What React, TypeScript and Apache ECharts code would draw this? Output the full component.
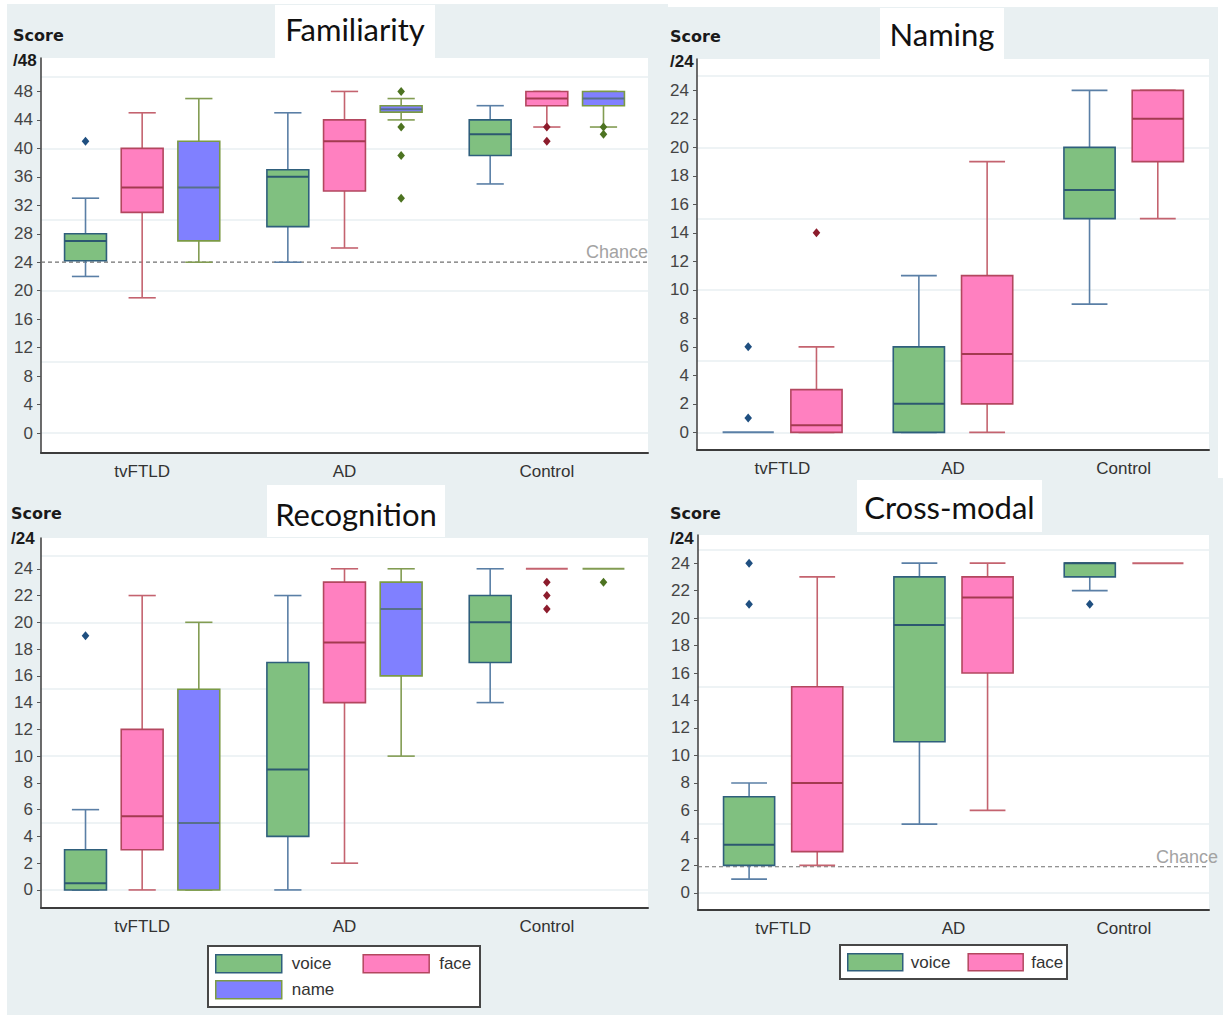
import React, { useEffect, useRef } from "react";
import * as echarts from "echarts";

// ---- data -------------------------------------------------------------
const categories = ["tvFTLD", "AD", "Control"];

// Five-number summaries per patient group: [lower whisker, Q1, median, Q3, upper whisker]
const familiarityVoice = [[22, 24.2, 27, 28, 33], [24, 29, 36, 37, 45], [35, 39, 42, 44, 46]];
const familiarityFace = [[19, 31, 34.5, 40, 45], [26, 34, 41, 44, 48], [43, 46, 47, 48, 48]];
const familiarityName = [[24, 27, 34.5, 41, 47], [44, 45.1, 45.5, 46, 47], [43, 46, 47, 48, 48]];
const familiarityVoiceOutliers = [["tvFTLD", 41]];
const familiarityFaceOutliers = [["Control", 43], ["Control", 41]];
const familiarityNameOutliers = [["AD", 48], ["AD", 43], ["AD", 39], ["AD", 33], ["Control", 43], ["Control", 42]];

const namingVoice = [[0, 0, 0, 0, 0], [0, 0, 2, 6, 11], [9, 15, 17, 20, 24]];
const namingFace = [[0, 0, 0.5, 3, 6], [0, 2, 5.5, 11, 19], [15, 19, 22, 24, 24]];
const namingVoiceOutliers = [["tvFTLD", 6], ["tvFTLD", 1]];
const namingFaceOutliers = [["tvFTLD", 14]];

const recognitionVoice = [[0, 0, 0.5, 3, 6], [0, 4, 9, 17, 22], [14, 17, 20, 22, 24]];
const recognitionFace = [[0, 3, 5.5, 12, 22], [2, 14, 18.5, 23, 24], [24, 24, 24, 24, 24]];
const recognitionName = [[0, 0, 5, 15, 20], [10, 16, 21, 23, 24], [24, 24, 24, 24, 24]];
const recognitionVoiceOutliers = [["tvFTLD", 19]];
const recognitionFaceOutliers = [["Control", 23], ["Control", 22], ["Control", 21]];
const recognitionNameOutliers = [["Control", 23]];

const crossModalVoice = [[1, 2, 3.5, 7, 8], [5, 11, 19.5, 23, 24], [22, 23, 24, 24, 24]];
const crossModalFace = [[2, 3, 8, 15, 23], [6, 16, 21.5, 23, 24], [24, 24, 24, 24, 24]];
const crossModalVoiceOutliers = [["tvFTLD", 24], ["tvFTLD", 21], ["Control", 21]];
const crossModalFaceOutliers: (string | number)[][] = [];

const familiarityChance = 24;
const crossModalChance = 1.9;

const ticks48 = [0, 4, 8, 12, 16, 20, 24, 28, 32, 36, 40, 44, 48];
const ticks24 = [0, 2, 4, 6, 8, 10, 12, 14, 16, 18, 20, 22, 24];
const gridLines48 = [0, 10, 20, 30, 40, 50];
const gridLines24 = [0, 5, 10, 15, 20, 25];

// ---- styling ------------------------------------------------------------
const SANS = '"Liberation Sans", Arial, sans-serif';
const TITLE_FONT = 'Lato, "Open Sans", sans-serif';
const BG = "#e9f0f2";

const groupColors: Record<string, any> = {
  voice: { fill: "#80c080", border: "#2f5f7c", median: "#2c5870", whisker: "#5a7fa6", outlier: "#1f4f80" },
  face: { fill: "#ff80c0", border: "#b3475f", median: "#a33a50", whisker: "#c4636f", outlier: "#8c1c2c" },
  name: { fill: "#8080ff", border: "#7b9a45", median: "#58708a", whisker: "#829c52", outlier: "#4d7321" },
};

type Group = { name: string; stats: number[][]; outliers: (string | number)[][] };
type Panel = {
  title: string;
  unit: string;
  grid: { left: number; top: number; width: number; height: number };
  yMin: number;
  yMax: number;
  ticks: number[];
  gridLines: number[];
  groups: Group[];
  chance?: number;
  chanceDx?: number;
  titleBox: { x: number; y: number; w: number; h: number };
  titleY: number;
  scorePos: { x: number; y: number };
};

const panels: Panel[] = [
  {
    title: "Familiarity",
    unit: "/48",
    grid: { left: 41, top: 58, width: 607, height: 395 },
    yMin: -2.81,
    yMax: 52.7,
    ticks: ticks48,
    gridLines: gridLines48,
    groups: [
      { name: "voice", stats: familiarityVoice, outliers: familiarityVoiceOutliers },
      { name: "face", stats: familiarityFace, outliers: familiarityFaceOutliers },
      { name: "name", stats: familiarityName, outliers: familiarityNameOutliers },
    ],
    chance: familiarityChance,
    chanceDx: 0,
    titleBox: { x: 275, y: 5, w: 160, h: 52 },
    titleY: 29,
    scorePos: { x: 13, y: 35 },
  },
  {
    title: "Naming",
    unit: "/24",
    grid: { left: 697, top: 59, width: 512, height: 391 },
    yMin: -1.24,
    yMax: 26.2,
    ticks: ticks24,
    gridLines: gridLines24,
    groups: [
      { name: "voice", stats: namingVoice, outliers: namingVoiceOutliers },
      { name: "face", stats: namingFace, outliers: namingFaceOutliers },
    ],
    titleBox: { x: 880, y: 8, w: 124, h: 49 },
    titleY: 34,
    scorePos: { x: 670, y: 36 },
  },
  {
    title: "Recognition",
    unit: "/24",
    grid: { left: 41, top: 538, width: 607, height: 370 },
    yMin: -1.35,
    yMax: 26.3,
    ticks: ticks24,
    gridLines: gridLines24,
    groups: [
      { name: "voice", stats: recognitionVoice, outliers: recognitionVoiceOutliers },
      { name: "face", stats: recognitionFace, outliers: recognitionFaceOutliers },
      { name: "name", stats: recognitionName, outliers: recognitionNameOutliers },
    ],
    titleBox: { x: 267, y: 485, w: 178, h: 50 },
    titleY: 514,
    scorePos: { x: 11, y: 513 },
  },
  {
    title: "Cross-modal",
    unit: "/24",
    grid: { left: 698, top: 535, width: 511, height: 375 },
    yMin: -1.25,
    yMax: 26.05,
    ticks: ticks24,
    gridLines: gridLines24,
    groups: [
      { name: "voice", stats: crossModalVoice, outliers: crossModalVoiceOutliers },
      { name: "face", stats: crossModalFace, outliers: crossModalFaceOutliers },
    ],
    chance: crossModalChance,
    chanceDx: 9,
    titleBox: { x: 857, y: 480, w: 185, h: 50 },
    titleY: 507,
    scorePos: { x: 670, y: 513 },
  },
];

// ---- renderers ----------------------------------------------------------
function boxRenderer(offset: number, widthFrac: number, capFrac: number, c: any) {
  return (_params: any, api: any) => {
    const cat = api.value(0);
    const band = api.size([1, 0])[0];
    const cx = api.coord([cat, 0])[0] + offset * band;
    const bw = widthFrac * band;
    const cw = capFrac * bw;
    const y = (k: number) => api.coord([cat, api.value(k)])[1];
    const yLo = y(1), yQ1 = y(2), yMed = y(3), yQ3 = y(4), yHi = y(5);
    const x0 = cx - bw / 2;
    if (Math.abs(yHi - yLo) < 0.01) {
      return {
        type: "line",
        shape: { x1: x0, y1: yLo, x2: x0 + bw, y2: yLo },
        style: { stroke: c.whisker, lineWidth: 2 },
      };
    }
    const ws = { stroke: c.whisker, lineWidth: 1.6 };
    return {
      type: "group",
      children: [
        { type: "line", shape: { x1: cx, y1: yQ3, x2: cx, y2: yHi }, style: ws },
        { type: "line", shape: { x1: cx, y1: yQ1, x2: cx, y2: yLo }, style: ws },
        { type: "line", shape: { x1: cx - cw / 2, y1: yHi, x2: cx + cw / 2, y2: yHi }, style: ws },
        { type: "line", shape: { x1: cx - cw / 2, y1: yLo, x2: cx + cw / 2, y2: yLo }, style: ws },
        {
          type: "rect",
          shape: { x: x0, y: yQ3, width: bw, height: Math.max(yQ1 - yQ3, 0.5) },
          style: { fill: c.fill, stroke: c.border, lineWidth: 1.6 },
        },
        {
          type: "line",
          shape: { x1: x0, y1: yMed, x2: x0 + bw, y2: yMed },
          style: { stroke: c.median, lineWidth: 2 },
        },
      ],
    };
  };
}

function outlierRenderer(offset: number, color: string) {
  return (_params: any, api: any) => {
    const cat = api.value(0);
    const band = api.size([1, 0])[0];
    const p = api.coord([cat, api.value(1)]);
    const x = p[0] + offset * band;
    const yy = p[1];
    return {
      type: "polygon",
      shape: { points: [[x, yy - 4.5], [x + 3.8, yy], [x, yy + 4.5], [x - 3.8, yy]] },
      style: { fill: color },
    };
  };
}

function chanceRenderer(dx: number) {
  return (params: any, api: any) => {
    const cs = params.coordSys;
    const yy = api.coord([0, api.value(1)])[1];
    return {
      type: "group",
      children: [
        {
          type: "line",
          shape: { x1: cs.x, y1: yy, x2: cs.x + cs.width, y2: yy },
          style: { stroke: "#707070", lineWidth: 1.2, lineDash: [4, 3] },
        },
        {
          type: "text",
          x: cs.x + cs.width + dx,
          y: yy - 1,
          style: {
            text: "Chance",
            fill: "#a3a3a3",
            fontSize: 18,
            fontFamily: SANS,
            align: "right",
            verticalAlign: "bottom",
            textAlign: "right",
            textVerticalAlign: "bottom",
          },
        },
      ],
    };
  };
}

// ---- option ---------------------------------------------------------------
function buildOption() {
  const grid: any[] = [];
  const xAxis: any[] = [];
  const yAxis: any[] = [];
  const series: any[] = [];
  const graphic: any[] = [
    { type: "rect", shape: { x: 0, y: 0, width: 7, height: 1015 }, style: { fill: "#ffffff" }, silent: true },
    { type: "rect", shape: { x: 0, y: 0, width: 668, height: 4 }, style: { fill: "#ffffff" }, silent: true },
    { type: "rect", shape: { x: 668, y: 0, width: 555, height: 7 }, style: { fill: "#ffffff" }, silent: true },
    { type: "rect", shape: { x: 1218, y: 0, width: 5, height: 478 }, style: { fill: "#ffffff" }, silent: true },
  ];

  panels.forEach((p, pi) => {
    grid.push({ ...p.grid, show: true, backgroundColor: "#ffffff", borderWidth: 0 });
    xAxis.push({
      type: "category",
      gridIndex: pi,
      data: categories,
      boundaryGap: true,
      axisLine: { onZero: false, lineStyle: { color: "#3c3c3c", width: 2 } },
      axisTick: { show: false },
      axisLabel: { color: "#333", fontSize: 17, fontFamily: SANS, margin: 10 },
      splitLine: { show: false },
    });
    yAxis.push({
      type: "value",
      gridIndex: pi,
      min: p.yMin,
      max: p.yMax,
      axisLine: { show: true, onZero: false, lineStyle: { color: "#3c3c3c", width: 1.5 } },
      axisTick: { show: true, length: 4, lineStyle: { color: "#555" }, customValues: p.ticks },
      axisLabel: { customValues: p.ticks, color: "#444", fontSize: 17, fontFamily: SANS, margin: 8 },
      splitLine: { show: false },
    });
    yAxis.push({
      type: "value",
      gridIndex: pi,
      position: "left",
      min: p.yMin,
      max: p.yMax,
      axisLine: { show: false },
      axisTick: { show: false, customValues: p.gridLines },
      axisLabel: { show: false, customValues: p.gridLines },
      splitLine: { show: true, lineStyle: { color: "#eef3f5", width: 2 } },
    });

    const n = p.groups.length;
    const offsets = n === 3 ? [-0.28, 0, 0.28] : [-0.2, 0.2];
    const boxFrac = n === 3 ? 0.207 : 0.3;
    const capFrac = n === 3 ? 0.65 : 0.7;

    if (p.chance != null) {
      series.push({
        type: "custom",
        name: "Chance",
        xAxisIndex: pi,
        yAxisIndex: pi * 2,
        data: [[0, p.chance]],
        encode: { x: 0, y: 1 },
        renderItem: chanceRenderer(p.chanceDx || 0),
        silent: true,
        z: 2,
      });
    }

    p.groups.forEach((g, gi) => {
      const c = groupColors[g.name];
      series.push({
        type: "custom",
        name: g.name,
        xAxisIndex: pi,
        yAxisIndex: pi * 2,
        data: g.stats.map((s, i) => [categories[i], ...s]),
        encode: { x: 0, y: [1, 2, 3, 4, 5] },
        itemStyle: { color: c.fill, borderColor: c.border, borderWidth: 1.5 },
        renderItem: boxRenderer(offsets[gi], boxFrac, capFrac, c),
        z: 3,
      });
      if (g.outliers.length) {
        series.push({
          type: "custom",
          name: g.name + " outliers",
          xAxisIndex: pi,
          yAxisIndex: pi * 2,
          data: g.outliers,
          encode: { x: 0, y: 1 },
          itemStyle: { color: c.outlier },
          renderItem: outlierRenderer(offsets[gi], c.outlier),
          z: 4,
        });
      }
    });

    // title tab, score caption and scale maximum
    graphic.push({
      type: "rect",
      shape: { x: p.titleBox.x, y: p.titleBox.y, width: p.titleBox.w, height: p.titleBox.h + 2 },
      style: { fill: "#ffffff" },
      silent: true,
    });
    graphic.push({
      type: "text",
      x: p.titleBox.x + p.titleBox.w / 2,
      y: p.titleY,
      style: {
        text: p.title,
        fill: "#111",
        fontSize: 31,
        fontFamily: TITLE_FONT,
        textAlign: "center",
        textVerticalAlign: "middle",
      },
      silent: true,
    });
    graphic.push({
      type: "text",
      x: p.scorePos.x,
      y: p.scorePos.y,
      style: {
        text: "Score",
        fill: "#1a1a1a",
        fontSize: 16,
        fontWeight: "bold",
        fontFamily: '"DejaVu Sans", Verdana, sans-serif',
        textAlign: "left",
        textVerticalAlign: "middle",
      },
      silent: true,
    });
    graphic.push({
      type: "text",
      x: p.scorePos.x,
      y: p.scorePos.y + 25,
      style: {
        text: p.unit,
        fill: "#1a1a1a",
        fontSize: 17,
        fontWeight: "bold",
        fontFamily: SANS,
        textAlign: "left",
        textVerticalAlign: "middle",
      },
      silent: true,
    });
  });

  // legend frames
  graphic.push({
    type: "rect",
    shape: { x: 208, y: 946, width: 272, height: 61 },
    style: { fill: "#ffffff", stroke: "#474747", lineWidth: 2 },
    silent: true,
  });
  graphic.push({
    type: "rect",
    shape: { x: 840, y: 945, width: 227, height: 34 },
    style: { fill: "#ffffff", stroke: "#474747", lineWidth: 2 },
    silent: true,
  });

  const legendBase = {
    icon: "rect",
    orient: "horizontal",
    padding: 0,
    selectedMode: false,
    itemStyle: { borderWidth: 1.5 },
    textStyle: { color: "#333", fontSize: 17, fontFamily: SANS, padding: [0, 0, 0, 5] },
  };

  const legend = [
    { ...legendBase, data: ["voice", "face"], left: 215, top: 954, itemWidth: 66, itemHeight: 18, itemGap: 31 },
    { ...legendBase, data: ["name"], left: 215, top: 980, itemWidth: 66, itemHeight: 18 },
    {
      ...legendBase,
      data: ["voice", "face"],
      left: 847,
      top: 953,
      itemWidth: 55,
      itemHeight: 17,
      itemGap: 17,
      textStyle: { ...legendBase.textStyle, padding: [0, 0, 0, 3] },
    },
  ];

  return {
    animation: false,
    backgroundColor: BG,
    grid,
    xAxis,
    yAxis,
    series,
    legend,
    graphic,
  };
}

export default function App() {
  const ref = useRef<HTMLDivElement>(null);
  useEffect(() => {
    if (!ref.current) return;
    const chart = echarts.init(ref.current, undefined, { renderer: "svg" });
    chart.setOption(buildOption() as any);
    return () => chart.dispose();
  }, []);
  return (
    <div
      ref={ref}
      style={{ position: "absolute", left: 0, top: 0, width: 1223, height: 1015 }}
    />
  );
}
